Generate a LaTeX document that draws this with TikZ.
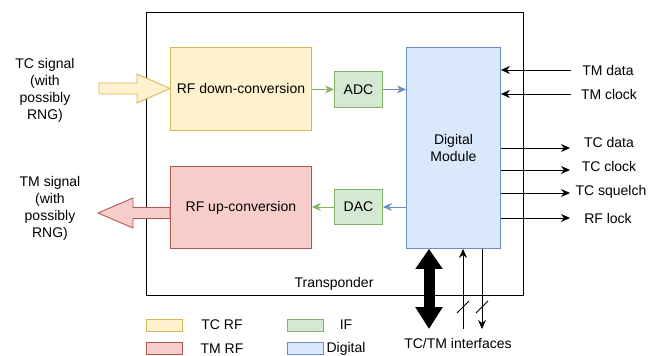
\documentclass[tikz,border=0pt]{standalone}
\usepackage{fontspec}
\setmainfont{Liberation Sans}
\usetikzlibrary{arrows.meta}
\definecolor{yfill}{HTML}{FFF2CC}\definecolor{ydraw}{HTML}{D6B656}
\definecolor{rfill}{HTML}{F8CECC}\definecolor{rdraw}{HTML}{B85450}
\definecolor{gfill}{HTML}{D5E8D4}\definecolor{gdraw}{HTML}{82B366}
\definecolor{bfill}{HTML}{DAE8FC}\definecolor{bdraw}{HTML}{6C8EBF}
\begin{document}
\begin{tikzpicture}[x=1pt,y=-1pt,
  every node/.style={font=\fontsize{14}{17}\selectfont, inner sep=0pt, align=center},
  blk/.style={draw, line width=0.9pt, minimum width=#1},
  arr/.style={-{Stealth[length=9pt,width=8pt]}, line width=0.9pt},
  sig/.style={arr, black},
  lab/.style={anchor=center}]
\useasboundingbox (0,0) rectangle (659,356);
% transponder
\node[draw, line width=0.9pt, minimum width=377pt, minimum height=283pt, anchor=north west] (tr) at (146,12) {};
\node (trl) at (334,284) {Transponder};
% blocks
\node[blk=141pt, minimum height=83pt, fill=yfill, draw=ydraw, anchor=north west] (down) at (170,47) {RF down-conversion};
\node[blk=141pt, minimum height=82pt, fill=rfill, draw=rdraw, anchor=north west] (up) at (170,166) {RF up-conversion};
\node[blk=48pt, minimum height=36pt, fill=gfill, draw=gdraw, anchor=north west] (adc) at (334,71) {ADC};
\node[blk=48pt, minimum height=35pt, fill=gfill, draw=gdraw, anchor=north west] (dac) at (334,189) {DAC};
\node[blk=94pt, minimum height=201pt, fill=bfill, draw=bdraw, anchor=north west] (dm) at (406,47) {Digital\\Module};
% internal connectors
\draw[arr, draw=gdraw] (down.east |- adc.west) -- (adc.west);
\draw[arr, draw=gdraw] (dac.west) -- (up.east |- dac.west);
\draw[arr, draw=bdraw] (adc.east) -- (dm.west |- adc.east);
\draw[arr, draw=bdraw] (dm.west |- dac.east) -- (dac.east);
% big input / output arrows
\coordinate (tcin) at (99,88.5);
\coordinate (tmout) at (98,213);
\filldraw[fill=yfill, draw=ydraw, line width=0.9pt]
  (tcin) ++(0,-5.5) -- (137,83) -- (137,74) -- (down.west |- tcin) -- (137,103) -- (137,94) -- (99,94) -- cycle;
\filldraw[fill=rfill, draw=rdraw, line width=0.9pt]
  (tmout) -- (133,198) -- (133,207.5) -- (up.west |- 0,207.5) -- (up.west |- 0,218.5) -- (133,218.5) -- (133,228) -- cycle;
\node (tcs) at (45,90) {TC signal\\(with\\possibly\\RNG)};
\node (tms) at (50,208) {TM signal\\(with\\possibly\\RNG)};
% right signals
\coordinate (tmd) at (571,70);
\coordinate (tmc) at (571,94);
\coordinate (tcd) at (570,148);
\coordinate (tcc) at (570,170);
\coordinate (tcq) at (570,193);
\coordinate (rfl) at (570,218);
\draw[sig] (tmd) -- (dm.east |- tmd);
\draw[sig] (tmc) -- (dm.east |- tmc);
\draw[sig] (dm.east |- tcd) -- (tcd);
\draw[sig] (dm.east |- tcc) -- (tcc);
\draw[sig] (dm.east |- tcq) -- (tcq);
\draw[sig] (dm.east |- rfl) -- (rfl);
\node (tmdl) at (608,70) {TM data};
\node (tmcl) at (609,94) {TM clock};
\node (tcdl) at (609,142) {TC data};
\node (tccl) at (609,166) {TC clock};
\node (tcql) at (611,192) {TC squelch};
\node (rfll) at (608,218) {RF lock};
% interfaces
\coordinate (bus) at (429,329);
\coordinate (uin) at (463,329);
\coordinate (dout) at (482,329);
\draw[line width=11pt, {Triangle[width=26pt,length=20pt]}-{Triangle[width=26pt,length=22pt]}] (dm.south -| bus) -- (bus);
\draw[sig] (uin) -- (dm.south -| uin);
\draw[sig] (dm.south -| dout) -- (dout);
\draw[line width=0.8pt] (457,313) -- (469,301);
\draw[line width=0.8pt] (476,313) -- (488,301);
\node (ifl) at (458,343) {TC/TM interfaces};
% legend
\node[blk=36pt, minimum height=12pt, fill=yfill, draw=ydraw] (lg1) at (164,325) {};
\node[blk=36pt, minimum height=12pt, fill=rfill, draw=rdraw] (lg2) at (164,348.5) {};
\node[blk=36pt, minimum height=12pt, fill=gfill, draw=gdraw] (lg3) at (305,325) {};
\node[blk=36pt, minimum height=12pt, fill=bfill, draw=bdraw] (lg4) at (305,348.5) {};
\node (lt1) at (222,325) {TC RF};
\node (lt2) at (222,349) {TM RF};
\node (lt3) at (346,325) {IF};
\node (lt4) at (346,349) {Digital};
\end{tikzpicture}
\end{document}
